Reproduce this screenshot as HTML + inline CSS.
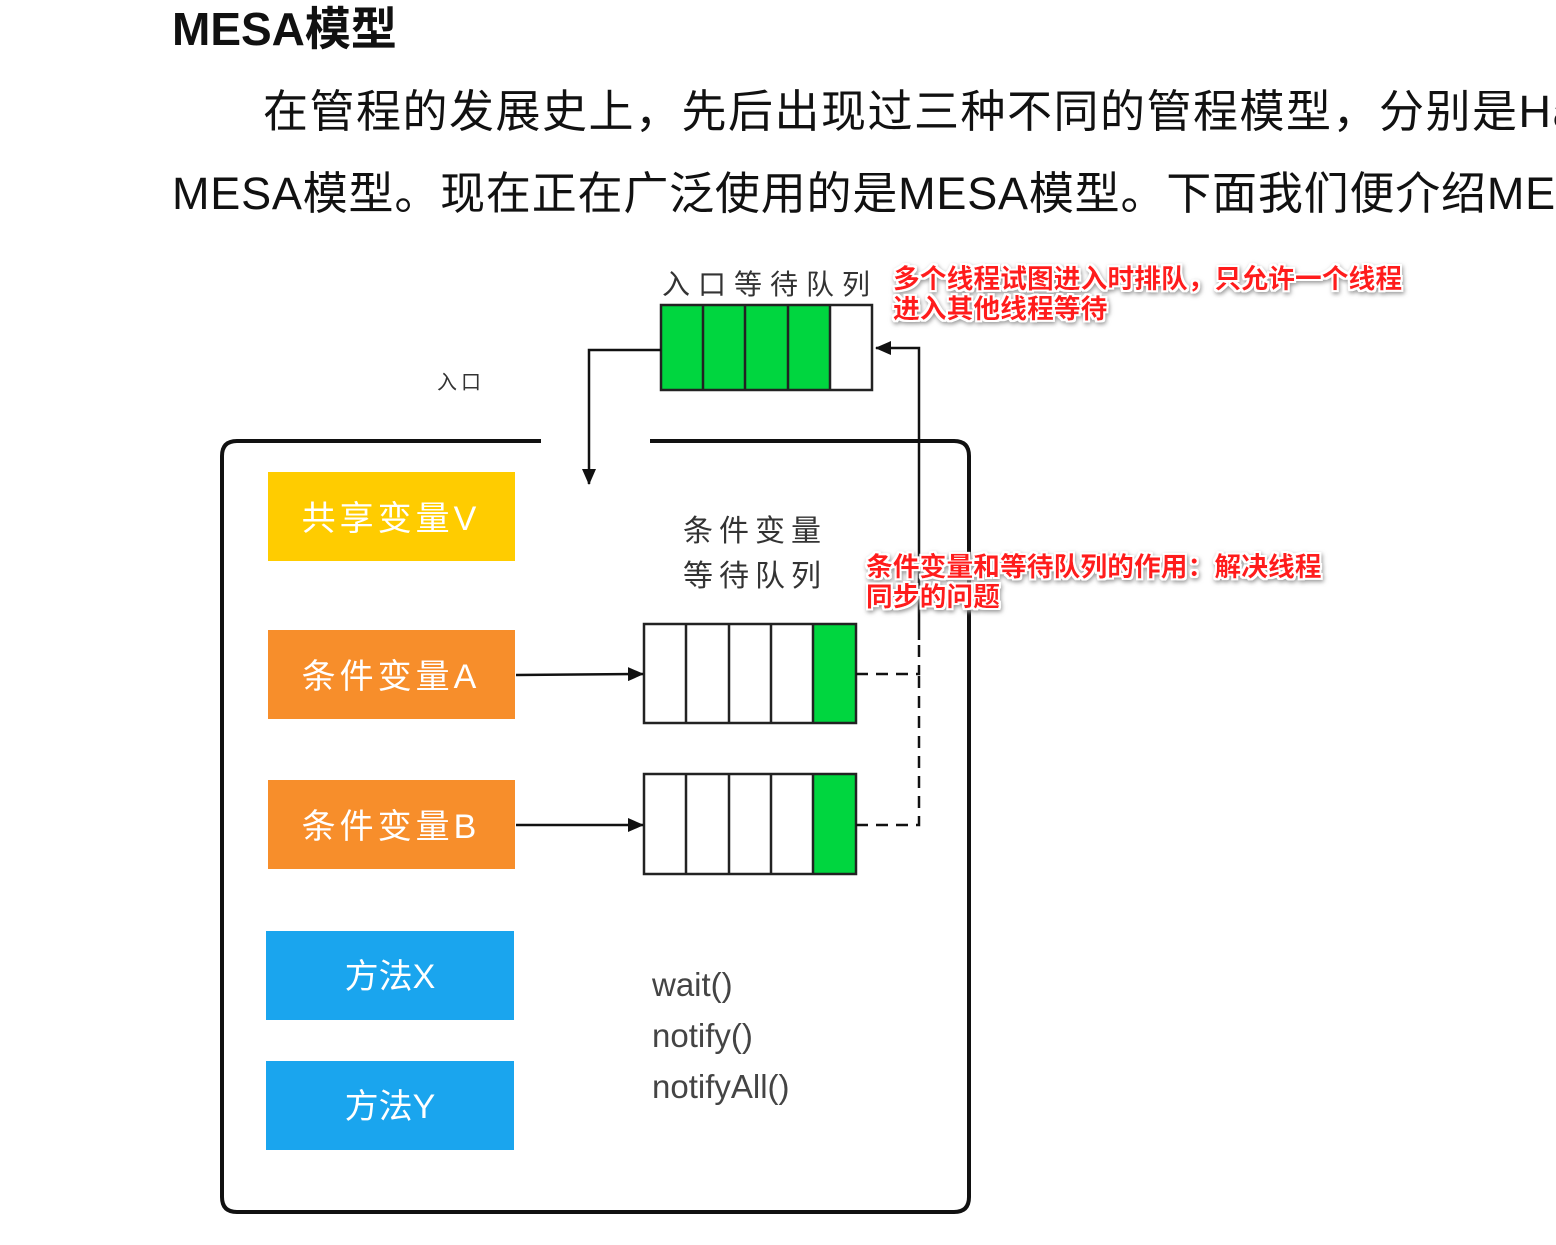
<!DOCTYPE html>
<html><head><meta charset="utf-8"><style>
html,body{margin:0;padding:0;background:#fff;width:1556px;height:1245px;overflow:hidden}
svg text{font-family:"Liberation Sans","Noto Sans CJK SC",sans-serif}
</style></head><body>
<svg width="1556" height="1245" xmlns="http://www.w3.org/2000/svg">
<defs>
<marker id="b" markerWidth="16" markerHeight="14" refX="15" refY="7" orient="auto" markerUnits="userSpaceOnUse"><path d="M0,0 L16,7 L0,14 z" fill="#111"/></marker>
<filter id="g"><feMorphology operator="dilate" radius="2" in="SourceAlpha" result="d"/><feFlood flood-color="#fff"/><feComposite in2="d" operator="in" result="w"/><feDropShadow dx="1" dy="2" stdDeviation="2" flood-color="#999" in="w" result="s"/><feMerge><feMergeNode in="s"/><feMergeNode in="SourceGraphic"/></feMerge></filter>
</defs>
<text x="172" y="45" font-size="46" font-weight="bold" fill="#111">MESA模型</text>
<text x="263" y="127" font-size="45" fill="#111" letter-spacing="1.5">在管程的发展史上，先后出现过三种不同的管程模型，分别是Hasen模型、Hoare模型和</text>
<text x="172" y="209" font-size="45" fill="#111" letter-spacing="0.8">MESA模型。现在正在广泛使用的是MESA模型。下面我们便介绍MESA模型：</text>

<path d="M541,441 H237 Q222,441 222,456 V1197 Q222,1212 237,1212 H954 Q969,1212 969,1197 V456 Q969,441 954,441 H650" fill="none" stroke="#111" stroke-width="4"/>

<text x="662" y="294" font-size="28" fill="#333" letter-spacing="8">入口等待队列</text>
<text x="437" y="389" font-size="20" fill="#333" letter-spacing="4">入口</text>
<text x="683" y="541" font-size="30" fill="#333" letter-spacing="6">条件变量</text>
<text x="683" y="586" font-size="30" fill="#333" letter-spacing="6">等待队列</text>

<rect x="661" y="305" width="169" height="85" fill="#00D63F"/>
<rect x="661" y="305" width="211" height="85" fill="none" stroke="#222" stroke-width="2.5"/>
<path d="M703,305V390M745,305V390M788,305V390M830,305V390" stroke="#222" stroke-width="2.5"/>

<rect x="813" y="624" width="43" height="99" fill="#00D63F"/>
<rect x="644" y="624" width="212" height="99" fill="none" stroke="#222" stroke-width="2.5"/>
<path d="M686,624V723M729,624V723M771,624V723M813,624V723" stroke="#222" stroke-width="2.5"/>
<rect x="813" y="774" width="43" height="100" fill="#00D63F"/>
<rect x="644" y="774" width="212" height="100" fill="none" stroke="#222" stroke-width="2.5"/>
<path d="M686,774V874M729,774V874M771,774V874M813,774V874" stroke="#222" stroke-width="2.5"/>

<path d="M661,350 H589 V484" fill="none" stroke="#111" stroke-width="2.5" marker-end="url(#b)"/>
<path d="M919,640 V348 H876" fill="none" stroke="#111" stroke-width="2.5" marker-end="url(#b)"/>
<path d="M856,674 H919 V640" fill="none" stroke="#111" stroke-width="2.5" stroke-dasharray="12,8"/>
<path d="M856,825 H919 V674" fill="none" stroke="#111" stroke-width="2.5" stroke-dasharray="12,8"/>
<path d="M516,675 L643,674" stroke="#111" stroke-width="2.5" marker-end="url(#b)"/>
<path d="M516,825 L643,825" stroke="#111" stroke-width="2.5" marker-end="url(#b)"/>

<rect x="268" y="472" width="247" height="89" fill="#FFCC00"/>
<text x="391" y="530" font-size="34" fill="#fff" text-anchor="middle" letter-spacing="4">共享变量V</text>
<rect x="268" y="630" width="247" height="89" fill="#F78E2B"/>
<text x="391" y="688" font-size="34" fill="#fff" text-anchor="middle" letter-spacing="4">条件变量A</text>
<rect x="268" y="780" width="247" height="89" fill="#F78E2B"/>
<text x="391" y="838" font-size="34" fill="#fff" text-anchor="middle" letter-spacing="4">条件变量B</text>
<rect x="266" y="931" width="248" height="89" fill="#1AA5EE"/>
<text x="390" y="988" font-size="34" fill="#fff" text-anchor="middle">方法X</text>
<rect x="266" y="1061" width="248" height="89" fill="#1AA5EE"/>
<text x="390" y="1118" font-size="34" fill="#fff" text-anchor="middle">方法Y</text>

<text x="652" y="996" font-size="33" fill="#444">wait()</text>
<text x="652" y="1047" font-size="33" fill="#444">notify()</text>
<text x="652" y="1098" font-size="33" fill="#444">notifyAll()</text>

<g filter="url(#g)" font-size="26.8" font-weight="bold" fill="#FF1A1A">
<text x="893" y="288">多个线程试图进入时排队，只允许一个线程</text>
<text x="893" y="318">进入其他线程等待</text>
<text x="866" y="576">条件变量和等待队列的作用：解决线程</text>
<text x="866" y="606">同步的问题</text>
</g>
</svg>
</body></html>
